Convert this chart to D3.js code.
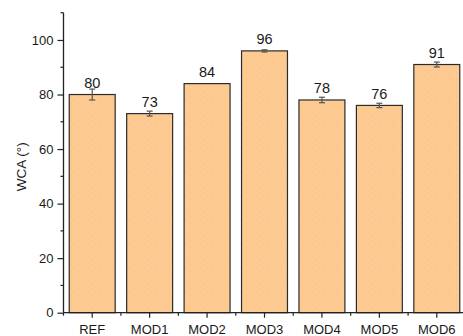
<!DOCTYPE html>
<html>
<head>
<meta charset="utf-8">
<script src="https://cdn.jsdelivr.net/npm/d3@7/dist/d3.min.js"></script>
<style>
  html, body { margin: 0; padding: 0; background: #fff; }
  svg { display: block; font-family: "Liberation Sans", Arial, sans-serif; }
</style>
</head>
<body>
<svg id="chart" width="463" height="336"></svg>
<script>
// Water contact angle per sample
const samples = ["REF", "MOD1", "MOD2", "MOD3", "MOD4", "MOD5", "MOD6"];
const wca = [80, 73, 84, 96, 78, 76, 91];
const wcaErr = [2.0, 0.9, 0, 0.4, 1.0, 0.8, 0.9];
const yMajorTicks = [0, 20, 40, 60, 80, 100];
const yMinorTicks = [10, 30, 50, 70, 90, 110];

const svg = d3.select("#chart");
const plotLeft = 63.5, plotTop = 12.7, plotBottom = 312.7;
const step = 57.43;

const x = d3.scaleBand()
  .domain(samples)
  .range([plotLeft, plotLeft + step * samples.length])
  .paddingInner(0.2)
  .paddingOuter(0.1);

const y = d3.scaleLinear().domain([0, 110]).range([plotBottom, plotTop]);

// soft speckle texture inside the bars
const defs = svg.append("defs");
const pat = defs.append("pattern")
  .attr("id", "speckle").attr("patternUnits", "userSpaceOnUse")
  .attr("width", 7).attr("height", 6);
pat.append("rect").attr("width", 7).attr("height", 6).attr("fill", "#FDCB91");
pat.append("rect").attr("x", 1).attr("y", 1).attr("width", 1).attr("height", 1)
  .attr("fill", "#F2B28E").attr("opacity", 0.7);
pat.append("rect").attr("x", 4).attr("y", 4).attr("width", 1).attr("height", 1)
  .attr("fill", "#F4BC8C").attr("opacity", 0.6);

const data = samples.map((s, i) => ({ s, v: wca[i], e: wcaErr[i] }));

// bars
svg.append("g").selectAll("rect").data(data).join("rect")
  .attr("x", d => x(d.s))
  .attr("y", d => y(d.v))
  .attr("width", x.bandwidth())
  .attr("height", d => y(0) - y(d.v))
  .attr("fill", "url(#speckle)")
  .attr("stroke", "#2b2b2b")
  .attr("stroke-width", 1.2);

// error bars
const eb = svg.append("g").attr("stroke", "#555").attr("stroke-width", 1.2)
  .selectAll("g").data(data.filter(d => d.e > 0)).join("g");
eb.append("line")
  .attr("x1", d => x(d.s) + x.bandwidth() / 2).attr("x2", d => x(d.s) + x.bandwidth() / 2)
  .attr("y1", d => y(d.v + d.e)).attr("y2", d => y(d.v - d.e));
[1, -1].forEach(sign => {
  eb.append("line")
    .attr("x1", d => x(d.s) + x.bandwidth() / 2 - 3).attr("x2", d => x(d.s) + x.bandwidth() / 2 + 3)
    .attr("y1", d => y(d.v + sign * d.e)).attr("y2", d => y(d.v + sign * d.e));
});

// value labels
svg.append("g").selectAll("text").data(data).join("text")
  .attr("x", d => x(d.s) + x.bandwidth() / 2)
  .attr("y", d => y(d.v) - 6.5)
  .attr("text-anchor", "middle")
  .attr("font-size", 14.5)
  .attr("fill", "#1a1a1a")
  .text(d => d.v);

// y axis
const yAxis = svg.append("g").attr("transform", `translate(${plotLeft},0)`);
yAxis.call(d3.axisLeft(y).tickValues(yMajorTicks).tickSize(6).tickPadding(4))
  .call(g => g.select(".domain").remove());
yAxis.selectAll(".tick text").attr("font-size", 13).attr("fill", "#1a1a1a")
  .attr("font-family", "'Liberation Sans', Arial, sans-serif");
yAxis.selectAll(".tick line").attr("stroke", "#222").attr("stroke-width", 1.2);
yAxis.append("g").selectAll("line").data(yMinorTicks).join("line")
  .attr("x1", -3).attr("x2", 0).attr("y1", d => y(d)).attr("y2", d => y(d))
  .attr("stroke", "#222").attr("stroke-width", 1.2);
yAxis.append("line").attr("x1", 0).attr("x2", 0).attr("y1", y(110)).attr("y2", y(0))
  .attr("stroke", "#222").attr("stroke-width", 1.3);

// x axis
const xAxis = svg.append("g").attr("transform", `translate(0,${plotBottom})`);
xAxis.call(d3.axisBottom(x).tickSize(5).tickPadding(7))
  .call(g => g.select(".domain").remove());
xAxis.selectAll(".tick text").attr("font-size", 13).attr("fill", "#1a1a1a")
  .attr("font-family", "'Liberation Sans', Arial, sans-serif");
xAxis.selectAll(".tick line").attr("stroke", "#222").attr("stroke-width", 1.2);
const bounds = d3.range(samples.length + 1).map(i => plotLeft + i * x.step());
xAxis.append("g").selectAll("line").data(bounds).join("line")
  .attr("x1", d => d).attr("x2", d => d).attr("y1", 0).attr("y2", 3)
  .attr("stroke", "#222").attr("stroke-width", 1.2);
xAxis.append("line").attr("x1", plotLeft).attr("x2", plotLeft + step * samples.length)
  .attr("y1", 0).attr("y2", 0).attr("stroke", "#222").attr("stroke-width", 1.3);

// y axis title
svg.append("text")
  .attr("transform", `translate(26,${(plotTop + plotBottom) / 2 + 4}) rotate(-90)`)
  .attr("text-anchor", "middle")
  .attr("font-size", 13.5)
  .attr("fill", "#1a1a1a")
  .text("WCA (°)");
</script>
</body>
</html>
